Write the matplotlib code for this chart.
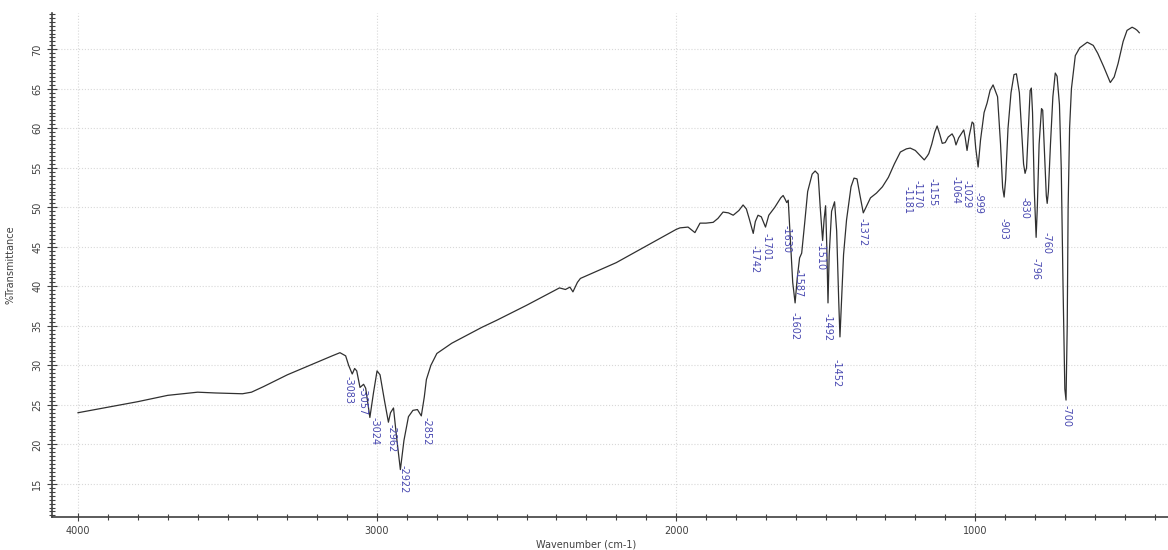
import matplotlib.pyplot as plt
from matplotlib.ticker import MultipleLocator

# spectrum (wavenumber, %T)
wavenumber = [4000, 3900, 3800, 3700, 3600, 3540, 3450, 3420, 3380, 3300, 3200, 3150, 3124, 3105,
              3095, 3083, 3075, 3068, 3057, 3045, 3038, 3024, 3012, 3000, 2990, 2975, 2962, 2955,
              2945, 2935, 2922, 2910, 2895, 2880, 2865, 2852, 2842, 2835, 2820, 2800, 2750, 2700,
              2650, 2600, 2500, 2420, 2390, 2370, 2355, 2345, 2330, 2320, 2200, 2100, 2000, 1987,
              1960, 1937, 1920, 1900, 1876, 1860, 1843, 1825, 1809, 1790, 1776, 1765, 1755, 1742,
              1735, 1726, 1715, 1701, 1690, 1670, 1650, 1642, 1635, 1630, 1625, 1618, 1610, 1602,
              1595, 1587, 1580, 1570, 1560, 1545, 1535, 1525, 1518, 1510, 1505, 1500, 1496, 1492,
              1488, 1480, 1470, 1463, 1456, 1452, 1447, 1440, 1430, 1415, 1405, 1395, 1385, 1374,
              1365, 1350, 1330, 1310, 1290, 1270, 1250, 1230, 1217, 1200, 1185, 1170, 1160, 1155,
              1145, 1135, 1127, 1118, 1110, 1100, 1090, 1077, 1070, 1064, 1055, 1043, 1038, 1033,
              1027, 1020, 1010, 1005, 998, 990, 982, 970, 960, 950, 940, 925, 915, 908,
              903, 898, 890, 880, 870, 862, 852, 845, 838, 833, 828, 822, 816, 812,
              808, 802, 796, 792, 786, 778, 774, 768, 762, 759, 755, 748, 740, 732,
              726, 718, 712, 706, 700, 696, 692, 689, 684, 678, 665, 650, 625, 605,
              590, 570, 548, 535, 522, 505, 492, 475, 465, 458, 451]
transmittance = [24.0, 24.7, 25.4, 26.2, 26.6, 26.5, 26.4, 26.6, 27.3, 28.8, 30.4, 31.2, 31.6, 31.2,
                 30.0, 28.9, 29.6, 29.3, 27.2, 27.6, 27.1, 23.4, 26.5, 29.3, 28.8, 25.5, 22.8, 24.0,
                 24.6, 21.0, 16.8, 20.5, 23.5, 24.3, 24.4, 23.6, 26.0, 28.2, 30.0, 31.5, 32.8, 33.8,
                 34.8, 35.7, 37.6, 39.2, 39.8, 39.6, 39.9, 39.3, 40.5, 41.0, 43.0, 45.1, 47.2, 47.4,
                 47.5, 46.8, 48.0, 48.0, 48.1, 48.6, 49.4, 49.3, 49.0, 49.6, 50.3, 49.8, 48.5, 46.7,
                 48.2, 49.0, 48.8, 47.5, 49.0, 50.0, 51.2, 51.5, 51.0, 50.6, 50.9, 46.0, 40.5, 37.9,
                 41.0, 43.6, 44.2, 48.0, 52.0, 54.2, 54.6, 54.2, 50.0, 45.8, 48.5, 50.2, 45.0, 37.9,
                 44.0, 49.5, 50.7, 47.0, 38.0, 33.6, 38.0, 44.0, 48.4, 52.6, 53.7, 53.6, 51.5, 49.3,
                 50.0, 51.2, 51.8, 52.6, 53.8, 55.5, 57.0, 57.4, 57.5, 57.2, 56.6, 56.0, 56.5, 56.8,
                 58.0, 59.5, 60.3, 59.2, 58.1, 58.2, 58.9, 59.3, 58.8, 57.9, 58.8, 59.5, 59.8, 58.8,
                 57.2, 59.0, 60.8, 60.6, 57.5, 55.1, 58.5, 62.0, 63.2, 64.8, 65.5, 64.0, 58.0, 52.5,
                 51.3, 53.5, 60.0, 64.5, 66.8, 66.9, 64.5, 60.0, 55.5, 54.3, 55.0, 60.0, 64.8, 65.1,
                 62.0, 52.0, 46.2, 50.0, 58.0, 62.5, 62.3, 57.0, 51.5, 50.5, 52.0, 58.0, 64.0, 67.0,
                 66.6, 63.0, 55.0, 40.0, 27.0, 25.6, 35.0, 50.0, 60.1, 65.0, 69.2, 70.2, 70.9, 70.5,
                 69.5, 67.8, 65.8, 66.5, 68.2, 71.0, 72.4, 72.8, 72.6, 72.4, 72.1]

# peak labels: text, where the label sits (wavenumber, %T of label top)
peak_labels = ['3083', '3057', '3024', '2962', '2922', '2852', '1742', '1701', '1630', '1587',
               '1602', '1510', '1492', '1452', '1372', '1181', '1170', '1155', '1064', '1029',
               '999', '903', '830', '796', '760', '700']
label_wn = [3094, 3050, 3010, 2950, 2910, 2836, 1738, 1698, 1630, 1590, 1605, 1518, 1495, 1465,
            1375, 1227, 1194, 1144, 1067, 1030, 990, 906, 836, 799, 762, 696]
label_t = [28.6, 27.3, 23.4, 22.6, 17.4, 23.4, 45.2, 46.7, 47.8, 42.2, 36.7, 45.6, 36.6, 30.8,
           48.6, 52.7, 53.5, 53.7, 54.0, 53.4, 51.9, 48.6, 51.3, 43.6, 46.9, 25.0]

fig = plt.figure(figsize=(11.68, 5.5), dpi=100)
ax = fig.add_axes([52 / 1168, 33 / 550, 1116 / 1168, 504 / 550])

ax.plot(wavenumber, transmittance, color='#303030', lw=0.9)

for txt, x, y in zip(peak_labels, label_wn, label_t):
    ax.text(x, y, '-' + txt, rotation=270, ha='center', va='top',
            fontsize=7, color='#4848b0')

ax.set_xlim(4087, 355)
ax.set_ylim(10.8, 74.6)

ax.xaxis.set_major_locator(MultipleLocator(1000))
ax.xaxis.set_minor_locator(MultipleLocator(100))
ax.yaxis.set_major_locator(MultipleLocator(5))
ax.yaxis.set_minor_locator(MultipleLocator(0.5))
ax.set_yticks(range(15, 75, 5))

ax.tick_params(axis='both', which='both', direction='inout', labelsize=7,
               colors='#404040', width=0.8)
ax.tick_params(axis='y', which='major', length=7, labelrotation=90)
ax.tick_params(axis='y', which='minor', length=4)
ax.tick_params(axis='x', which='major', length=6)
ax.tick_params(axis='x', which='minor', length=4)
for lbl in ax.get_yticklabels():
    lbl.set_va('center')

ax.grid(True, which='major', color='#d8d8d8', ls=':', lw=0.8)

for side in ['top', 'right']:
    ax.spines[side].set_visible(False)
for side in ['left', 'bottom']:
    ax.spines[side].set_linewidth(1.2)
    ax.spines[side].set_color('#404040')

ax.set_xlabel('Wavenumber (cm-1)', fontsize=7, color='#404040')
ax.set_ylabel('%Transmittance', fontsize=7, color='#404040')
ax.xaxis.set_label_coords(0.479, -0.045)
ax.yaxis.set_label_coords(-0.033, 0.5)

fig.savefig('out.png', dpi=100)
